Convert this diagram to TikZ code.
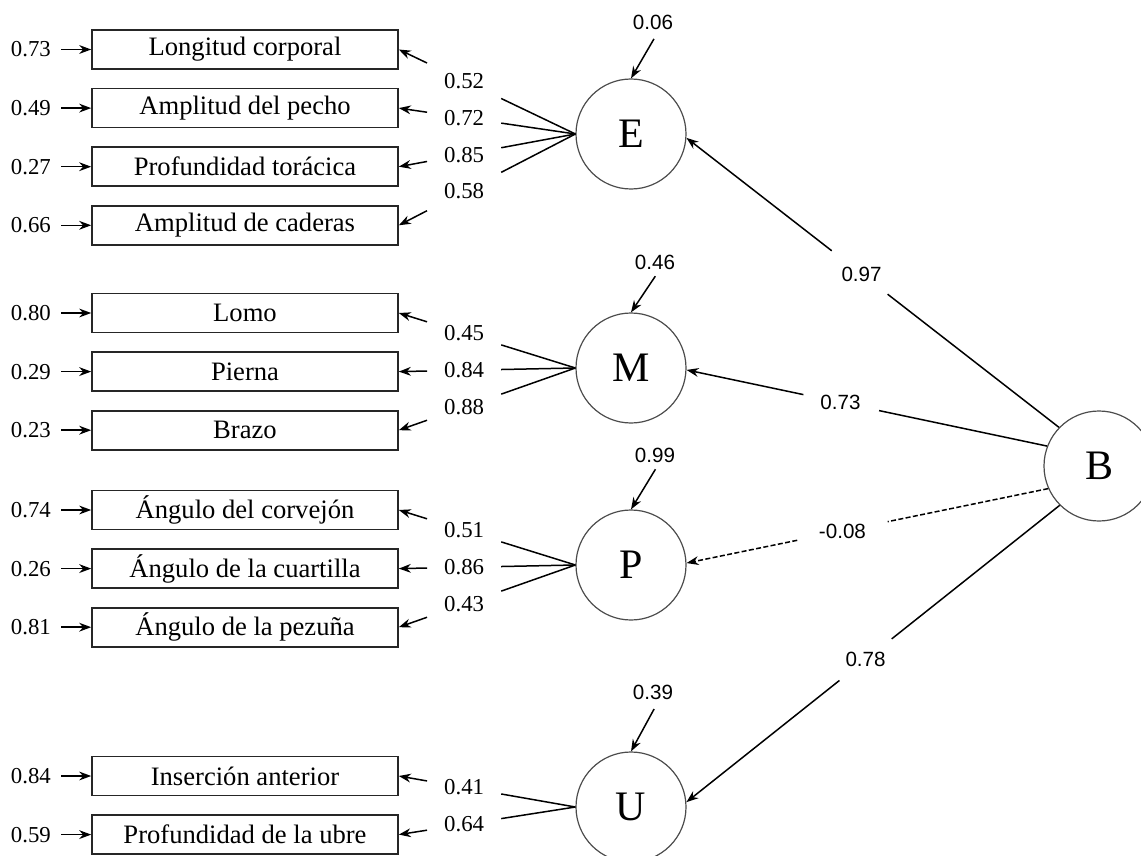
\documentclass[tikz,border=0pt]{standalone}
\usepackage{fontspec}
\setmainfont{Liberation Serif}
\newfontfamily\numsans{Liberation Sans}
\usetikzlibrary{positioning,arrows.meta,calc}

% loading from a latent to an indicator, broken where the value sits
\newcommand{\loading}[3]{%
  \path (#1) -- (#2) coordinate[pos=0.42] (la) coordinate[pos=0.84] (lb)
    node[ln, pos=0.63] {#3};
  \draw[seg] (#1) -- (la);
  \draw[arr] (lb) -- (#2);
}

\begin{document}
\begin{tikzpicture}[
  x=0.5pt, y=-0.5pt,
  node distance=9pt and 18pt,
  ind/.style={draw=black!85, rectangle, line width=0.8pt, minimum width=153pt, minimum height=19.5pt, inner sep=2pt, font=\fontsize{13.3}{15}\selectfont},
  lat/.style={draw=black!70, circle, line width=0.6pt, minimum size=55pt, inner sep=0pt, font=\fontsize{21}{24}\selectfont},
  en/.style={inner sep=2pt, font=\fontsize{11.4}{13}\selectfont},
  ln/.style={inner sep=1pt, font=\fontsize{11.4}{13}\selectfont},
  sn/.style={inner sep=2pt, font=\numsans\fontsize{10.3}{12}\selectfont},
  seg/.style={line width=0.75pt},
  arr/.style={-{Stealth[length=6pt,width=4.4pt]}, line width=0.75pt}
]
  \useasboundingbox (0,0) rectangle (1141,856);
  \clip (0,0) rectangle (1141,856);

  % indicators
  \node[ind] (lc) at (245,49.5) {Longitud corporal};
  \node[ind, below=of lc] (ap) {Amplitud del pecho};
  \node[ind, below=of ap] (pt) {Profundidad torácica};
  \node[ind, below=of pt] (ac) {Amplitud de caderas};
  \node[ind] (lo) at (245,313) {Lomo};
  \node[ind, below=of lo] (pi) {Pierna};
  \node[ind, below=of pi] (br) {Brazo};
  \node[ind] (co) at (245,510) {Ángulo del corvejón};
  \node[ind, below=of co] (cu) {Ángulo de la cuartilla};
  \node[ind, below=of cu] (pz) {Ángulo de la pezuña};
  \node[ind] (ia) at (245,776) {Inserción anterior};
  \node[ind, below=of ia] (pu) {Profundidad de la ubre};

  % measurement errors
  \node[en, left=of lc] (elc) {0.73};
  \node[en, left=of ap] (eap) {0.49};
  \node[en, left=of pt] (ept) {0.27};
  \node[en, left=of ac] (eac) {0.66};
  \node[en, left=of lo] (elo) {0.80};
  \node[en, left=of pi] (epi) {0.29};
  \node[en, left=of br] (ebr) {0.23};
  \node[en, left=of co] (eco) {0.74};
  \node[en, left=of cu] (ecu) {0.26};
  \node[en, left=of pz] (epz) {0.81};
  \node[en, left=of ia] (eia) {0.84};
  \node[en, left=of pu] (epu) {0.59};
  \draw[arr, shorten <=3pt] (elc.east) -- (lc.west);
  \draw[arr, shorten <=3pt] (eap.east) -- (ap.west);
  \draw[arr, shorten <=3pt] (ept.east) -- (pt.west);
  \draw[arr, shorten <=3pt] (eac.east) -- (ac.west);
  \draw[arr, shorten <=3pt] (elo.east) -- (lo.west);
  \draw[arr, shorten <=3pt] (epi.east) -- (pi.west);
  \draw[arr, shorten <=3pt] (ebr.east) -- (br.west);
  \draw[arr, shorten <=3pt] (eco.east) -- (co.west);
  \draw[arr, shorten <=3pt] (ecu.east) -- (cu.west);
  \draw[arr, shorten <=3pt] (epz.east) -- (pz.west);
  \draw[arr, shorten <=3pt] (eia.east) -- (ia.west);
  \draw[arr, shorten <=3pt] (epu.east) -- (pu.west);

  % latents
  \node[lat] (E) at (631,134) {E};
  \node[lat] (M) at (631,368) {M};
  \node[lat] (P) at (631,565) {P};
  \node[lat] (U) at (631,807) {U};
  \node[lat] (B) at (1099,466) {B};

  % disturbances
  \node[sn] (dE) at (653,22) {0.06};
  \node[sn] (dM) at (655,262) {0.46};
  \node[sn] (dP) at (655,455) {0.99};
  \node[sn] (dU) at (653,692) {0.39};
  \draw[arr, shorten <=3pt] ([xshift=2pt]dE.south) -- (E.north);
  \draw[arr, shorten <=1.5pt] ([xshift=1pt]dM.south) -- (M.north);
  \draw[arr, shorten <=1.5pt] ([xshift=1pt]dP.south) -- (P.north);
  \draw[arr, shorten <=3pt] ([xshift=2pt]dU.south) -- (U.north);

  % loadings
  \loading{E.west}{lc.east}{0.52}
  \loading{E.west}{ap.east}{0.72}
  \loading{E.west}{pt.east}{0.85}
  \loading{E.west}{ac.east}{0.58}
  \loading{M.west}{lo.east}{0.45}
  \loading{M.west}{pi.east}{0.84}
  \loading{M.west}{br.east}{0.88}
  \loading{P.west}{co.east}{0.51}
  \loading{P.west}{cu.east}{0.86}
  \loading{P.west}{pz.east}{0.43}
  \loading{U.west}{ia.east}{0.41}
  \loading{U.west}{pu.east}{0.64}

  % structural paths from B
  \path (B.136) -- (E.-4) coordinate[pos=0.46] (g1) coordinate[pos=0.61] (g2) node[sn, pos=0.53] {0.97};
  \draw[seg] (B.136) -- (g1);
  \draw[arr] (g2) -- (E.-4);
  \path (B.159) -- (M.-2) coordinate[pos=0.466] (g3) coordinate[pos=0.676] (g4) node[sn, pos=0.573] {0.73};
  \draw[seg] (B.159) -- (g3);
  \draw[arr] (g4) -- (M.-2);
  \path (B.204) -- (P.2) coordinate[pos=0.444] (g5) coordinate[pos=0.694] (g6) node[sn, pos=0.569] {-0.08};
  \draw[seg, dash pattern=on 2.5pt off 1.2pt] (B.204) -- (g5);
  \draw[arr, dash pattern=on 2.5pt off 1.2pt] (g6) -- (P.2);
  \path (B.225) -- (U.5) coordinate[pos=0.45] (g7) coordinate[pos=0.59] (g8) node[sn, pos=0.52] {0.78};
  \draw[seg] (B.225) -- (g7);
  \draw[arr] (g8) -- (U.5);
\end{tikzpicture}
\end{document}
